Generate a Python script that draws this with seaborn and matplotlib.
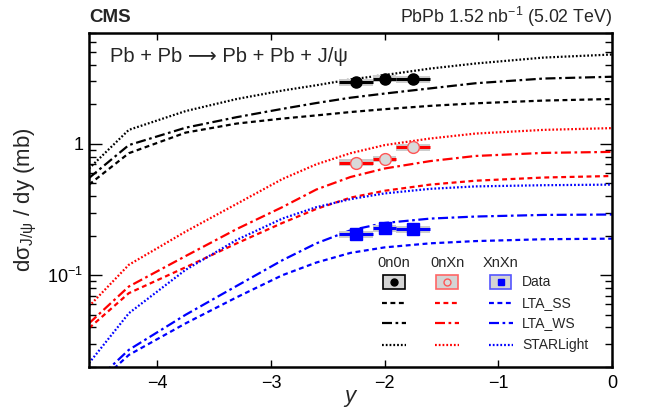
import numpy as np
import pandas as pd
import matplotlib
matplotlib.use("Agg")
import matplotlib.pyplot as plt
import seaborn as sns
from matplotlib.patches import Rectangle
from matplotlib.lines import Line2D
from matplotlib.ticker import NullLocator, LogLocator, NullFormatter

# ---------------- data ----------------
rap = [-4.6, -4.25, -3.75, -3.3, -2.9, -2.6, -2.3, -2.0, -1.6, -1.2, -0.6, 0.0]

ss_0n0n = [0.49, 0.85, 1.22, 1.43, 1.56, 1.65, 1.75, 1.84, 1.95, 2.04, 2.14, 2.2]
ws_0n0n = [0.55, 0.98, 1.33, 1.6, 1.85, 2.05, 2.25, 2.42, 2.65, 2.9, 3.15, 3.25]
sl_0n0n = [0.65, 1.28, 1.78, 2.2, 2.55, 2.8, 3.1, 3.35, 3.75, 4.1, 4.55, 4.8]

ss_0nXn = [0.0395, 0.073, 0.115, 0.175, 0.25, 0.32, 0.39, 0.44, 0.49, 0.525, 0.555, 0.57]
ws_0nXn = [0.043, 0.082, 0.14, 0.225, 0.33, 0.45, 0.56, 0.65, 0.74, 0.81, 0.855, 0.87]
sl_0nXn = [0.058, 0.12, 0.215, 0.35, 0.54, 0.70, 0.85, 0.98, 1.1, 1.2, 1.28, 1.32]

ss_XnXn = [0.013, 0.0247, 0.043, 0.068, 0.1, 0.125, 0.148, 0.163, 0.175, 0.182, 0.188, 0.19]
ws_XnXn = [0.014, 0.027, 0.05, 0.083, 0.13, 0.175, 0.22, 0.25, 0.27, 0.28, 0.288, 0.29]
sl_XnXn = [0.0214, 0.0513, 0.11, 0.186, 0.27, 0.33, 0.38, 0.42, 0.455, 0.475, 0.485, 0.49]

data_y = [-2.25, -2.0, -1.75]
bin_lo = [-2.4, -2.1, -1.9]
bin_hi = [-2.1, -1.9, -1.6]
data_0n0n = [2.95, 3.15, 3.12]
data_0nXn = [0.72, 0.77, 0.944]
data_XnXn = [0.206, 0.228, 0.225]
syst_rel = 0.06

classes = ["0n0n", "0nXn", "XnXn"]
models = ["LTA_SS", "LTA_WS", "STARLight"]

rows = []
for cls, series in zip(classes, [(ss_0n0n, ws_0n0n, sl_0n0n),
                                 (ss_0nXn, ws_0nXn, sl_0nXn),
                                 (ss_XnXn, ws_XnXn, sl_XnXn)]):
    for model, vals in zip(models, series):
        for x, v in zip(rap, vals):
            rows.append({"y": x, "xsec": v, "cls": cls, "model": model})
df = pd.DataFrame(rows)

# ---------------- style ----------------
sns.set_theme(style="ticks")
plt.rcParams["font.family"] = ["Liberation Sans", "DejaVu Sans"]
plt.rcParams["mathtext.fontset"] = "custom"
plt.rcParams["mathtext.rm"] = "Liberation Sans"
plt.rcParams["mathtext.it"] = "Liberation Sans:italic"
plt.rcParams["mathtext.bf"] = "Liberation Sans:bold"

colors = {"0n0n": "black", "0nXn": "red", "XnXn": "blue"}
dashes = {"LTA_SS": (2.2, 1.6), "LTA_WS": (4.5, 1.6, 1.2, 1.6), "STARLight": (0.8, 0.9)}

fig = plt.figure(figsize=(6.49, 4.09), dpi=100)
ax = fig.add_axes([89 / 649, 1 - 367 / 409, 523 / 649, 334 / 409])

sns.lineplot(data=df, x="y", y="xsec", hue="cls", style="model",
             palette=colors, dashes=dashes, linewidth=1.6, ax=ax,
             legend=False, sort=True, estimator=None)

# data points with systematic boxes
mstyle = {
    "0n0n": dict(fmt="o", color="black", mfc="black", mec="black", ms=8),
    "0nXn": dict(fmt="o", color="red", mfc="#d9d9d9", mec="#ff5555", ms=8.5),
    "XnXn": dict(fmt="s", color="blue", mfc="blue", mec="blue", ms=8),
}
lo = np.array(bin_lo); hi = np.array(bin_hi); xc = np.array(data_y)
for cls, vals in zip(classes, [data_0n0n, data_0nXn, data_XnXn]):
    v = np.array(vals)
    ax.bar(xc, 2 * syst_rel * v, bottom=v * (1 - syst_rel), width=hi - lo,
           color="#cccccc", edgecolor="none", zorder=3)
    ax.errorbar(xc, v, xerr=[xc - lo, hi - xc], elinewidth=2.2, capsize=0,
                zorder=5, **mstyle[cls])

ax.set_yscale("log")
ax.set_xlim(-4.6, 0)
ax.set_ylim(0.02, 7)
ax.set_yticks([0.1, 1], ["$10^{-1}$", "1"])
ax.yaxis.set_minor_locator(LogLocator(base=10, subs=np.arange(2, 10)))
ax.yaxis.set_minor_formatter(NullFormatter())
ax.set_xticks([-4, -3, -2, -1, 0], ["\u22124", "\u22123", "\u22122", "\u22121", "0"])
ax.xaxis.set_minor_locator(NullLocator())
ax.tick_params(axis="both", which="both", direction="in", top=True, right=True,
               labelsize=13, width=1, colors="black")
ax.tick_params(axis="x", which="major", length=5, pad=6)
ax.tick_params(axis="y", which="major", length=9, pad=4)
ax.tick_params(axis="y", which="minor", length=5)
for s in ax.spines.values():
    s.set_linewidth(1.8)
    s.set_color("black")

ax.set_xlabel("$y$", fontsize=16, labelpad=-3)
ax.set_ylabel("d\u03c3$_{\\mathrm{J/\u03c8}}$ / dy (mb)", fontsize=16, labelpad=6)

fig.text(89 / 649, 1 - 17 / 409, "CMS", fontsize=13.5, fontweight="bold",
         ha="left", va="center")
fig.text(612 / 649, 1 - 17 / 409, "PbPb 1.52 nb$^{-1}$ (5.02 TeV)", fontsize=12.8,
         ha="right", va="center")
ax.text(0.04, 0.93, "Pb + Pb \u27f6 Pb + Pb + J/\u03c8", transform=ax.transAxes,
        fontsize=14.5, ha="left", va="center",
        family=["Liberation Sans", "DejaVu Sans"])

# ---------------- custom legend ----------------
col_x = [0.583, 0.685, 0.787]
row_y = {"hdr": 0.312, "Data": 0.254, "LTA_SS": 0.192, "LTA_WS": 0.132, "STARLight": 0.066}
lab_x = 0.828
half = 0.023
for cx, cls in zip(col_x, classes):
    ax.text(cx, row_y["hdr"], cls, transform=ax.transAxes, fontsize=10.5,
            ha="center", va="center")
    c = colors[cls]
    bw, bh = 0.0415, 0.041
    ax.add_patch(Rectangle((cx - bw / 2, row_y["Data"] - bh / 2), bw, bh,
                           transform=ax.transAxes, facecolor="#d4d4d4",
                           edgecolor={"0n0n": "black", "0nXn": "#ff6666", "XnXn": "#5555ff"}[cls],
                           linewidth=1.2, zorder=6))
    ms = mstyle[cls]
    ax.add_line(Line2D([cx], [row_y["Data"]], transform=ax.transAxes,
                       marker=ms["fmt"], ms=5, mfc=ms["mfc"], mec=ms["mec"], zorder=7))
    for m in models:
        ax.add_line(Line2D([cx - half, cx + half], [row_y[m], row_y[m]],
                           transform=ax.transAxes, color=c, lw=1.6,
                           dashes=dashes[m], zorder=6))
for key in ["Data"] + models:
    ax.text(lab_x, row_y[key], key, transform=ax.transAxes, fontsize=10,
            ha="left", va="center")

fig.savefig("out.png", dpi=100)
